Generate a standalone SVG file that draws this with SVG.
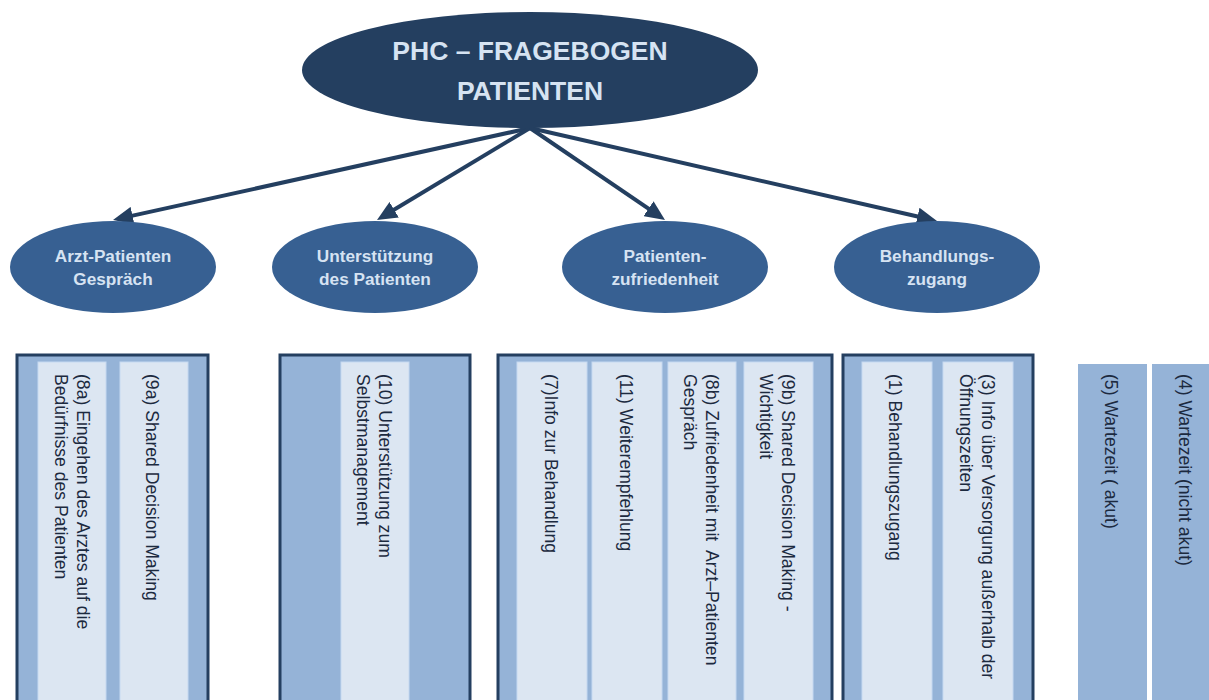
<svg xmlns="http://www.w3.org/2000/svg" width="1209" height="700" viewBox="0 0 1209 700">
<defs>
<style>
.title{font-family:"Liberation Sans",Arial,sans-serif;font-weight:bold;font-size:26.5px;fill:#D6E3F2;text-anchor:middle}
.sub{font-family:"Liberation Sans",Arial,sans-serif;font-weight:bold;font-size:17.2px;fill:#D6E3F2;text-anchor:middle}
.item{font-family:"Liberation Sans",Arial,sans-serif;font-size:17.6px;fill:#1c2a3f}
.box{fill:#95B3D7;stroke:#243F60;stroke-width:3}
.strip{fill:#DCE6F2;stroke:#C6D9F1;stroke-width:1}
.bare{fill:#95B3D7}
.conn{stroke:#243F60;stroke-width:4;fill:none;marker-end:url(#ah)}
</style>
<marker id="ah" markerUnits="userSpaceOnUse" markerWidth="20" markerHeight="18" viewBox="0 0 20 18" refX="8" refY="9" orient="auto">
<path d="M0,0 L20,9 L0,18 z" fill="#243F60"/>
</marker>
</defs>
<rect width="1209" height="700" fill="#ffffff"/>

<g id="connectors">
<line class="conn" x1="530" y1="128" x2="124.7" y2="217.4"/>
<line class="conn" x1="530" y1="128" x2="387.3" y2="213.8"/>
<line class="conn" x1="530" y1="128" x2="655.1" y2="213.2"/>
<line class="conn" x1="530" y1="128" x2="925.3" y2="218.3"/>
</g>

<g id="root">
<ellipse cx="530" cy="70" rx="228" ry="58" fill="#243F60"/>
<text class="title" x="530" y="60">PHC – FRAGEBOGEN</text>
<text class="title" x="530" y="100">PATIENTEN</text>
</g>

<g id="n-arzt">
<ellipse cx="113" cy="267" rx="103" ry="46" fill="#376092"/>
<text class="sub" x="113" y="262">Arzt-Patienten</text>
<text class="sub" x="113" y="285">Gespräch</text>
</g>
<g id="n-unterst">
<ellipse cx="375" cy="267" rx="103" ry="46" fill="#376092"/>
<text class="sub" x="375" y="262">Unterstützung</text>
<text class="sub" x="375" y="285">des Patienten</text>
</g>
<g id="n-zufr">
<ellipse cx="665" cy="267" rx="103" ry="46" fill="#376092"/>
<text class="sub" x="665" y="262">Patienten-</text>
<text class="sub" x="665" y="285">zufriedenheit</text>
</g>
<g id="n-zugang">
<ellipse cx="937" cy="267" rx="103" ry="46" fill="#376092"/>
<text class="sub" x="937" y="262">Behandlungs-</text>
<text class="sub" x="937" y="285">zugang</text>
</g>

<g id="box-arzt">
<rect class="box" x="17" y="355" width="191" height="360"/>
<rect class="strip" x="38" y="362" width="68" height="350"/>
<rect class="strip" x="120" y="362" width="68" height="350"/>
<text class="item" transform="translate(77,374) rotate(90)">(8a) Eingehen des Arztes auf die</text>
<text class="item" transform="translate(55,374) rotate(90)">Bedürfnisse des Patienten</text>
<text class="item" transform="translate(146,374) rotate(90)">(9a) Shared Decision Making</text>
</g>

<g id="box-unterst">
<rect class="box" x="280" y="355" width="190" height="360"/>
<rect class="strip" x="341" y="362" width="68" height="350"/>
<text class="item" transform="translate(379,374) rotate(90)">(10) Unterstützung zum</text>
<text class="item" transform="translate(357,374) rotate(90)">Selbstmanagement</text>
</g>

<g id="box-zufr">
<rect class="box" x="498" y="355" width="334" height="360"/>
<rect class="strip" x="517" y="362" width="70" height="350"/>
<rect class="strip" x="592" y="362" width="70" height="350"/>
<rect class="strip" x="668" y="362" width="68" height="350"/>
<rect class="strip" x="744" y="362" width="69" height="350"/>
<text class="item" transform="translate(545,374) rotate(90)">(7)Info zur Behandlung</text>
<text class="item" transform="translate(620,374) rotate(90)">(11) Weiterempfehlung</text>
<text class="item" transform="translate(706,374) rotate(90)" xml:space="preserve">(8b) Zufriedenheit mit  Arzt–Patienten</text>
<text class="item" transform="translate(684,374) rotate(90)">Gespräch</text>
<text class="item" transform="translate(782,374) rotate(90)">(9b) Shared Decision Making -</text>
<text class="item" transform="translate(760,374) rotate(90)">Wichtigkeit</text>
</g>

<g id="box-zugang">
<rect class="box" x="843" y="355" width="190" height="360"/>
<rect class="strip" x="862" y="362" width="70" height="350"/>
<rect class="strip" x="943" y="362" width="70" height="350"/>
<text class="item" transform="translate(889,374) rotate(90)">(1) Behandlungszugang</text>
<text class="item" transform="translate(982,374) rotate(90)">(3) Info über Versorgung außerhalb der</text>
<text class="item" transform="translate(960,374) rotate(90)">Öffnungszeiten</text>
</g>

<g id="wartezeit-akut">
<rect class="bare" x="1078" y="364" width="69" height="350"/>
<text class="item" transform="translate(1105,374) rotate(90)">(5) Wartezeit ( akut)</text>
</g>
<g id="wartezeit-nicht-akut">
<rect class="bare" x="1152" y="364" width="69" height="350"/>
<text class="item" transform="translate(1179,374) rotate(90)">(4) Wartezeit (nicht akut)</text>
</g>
</svg>
